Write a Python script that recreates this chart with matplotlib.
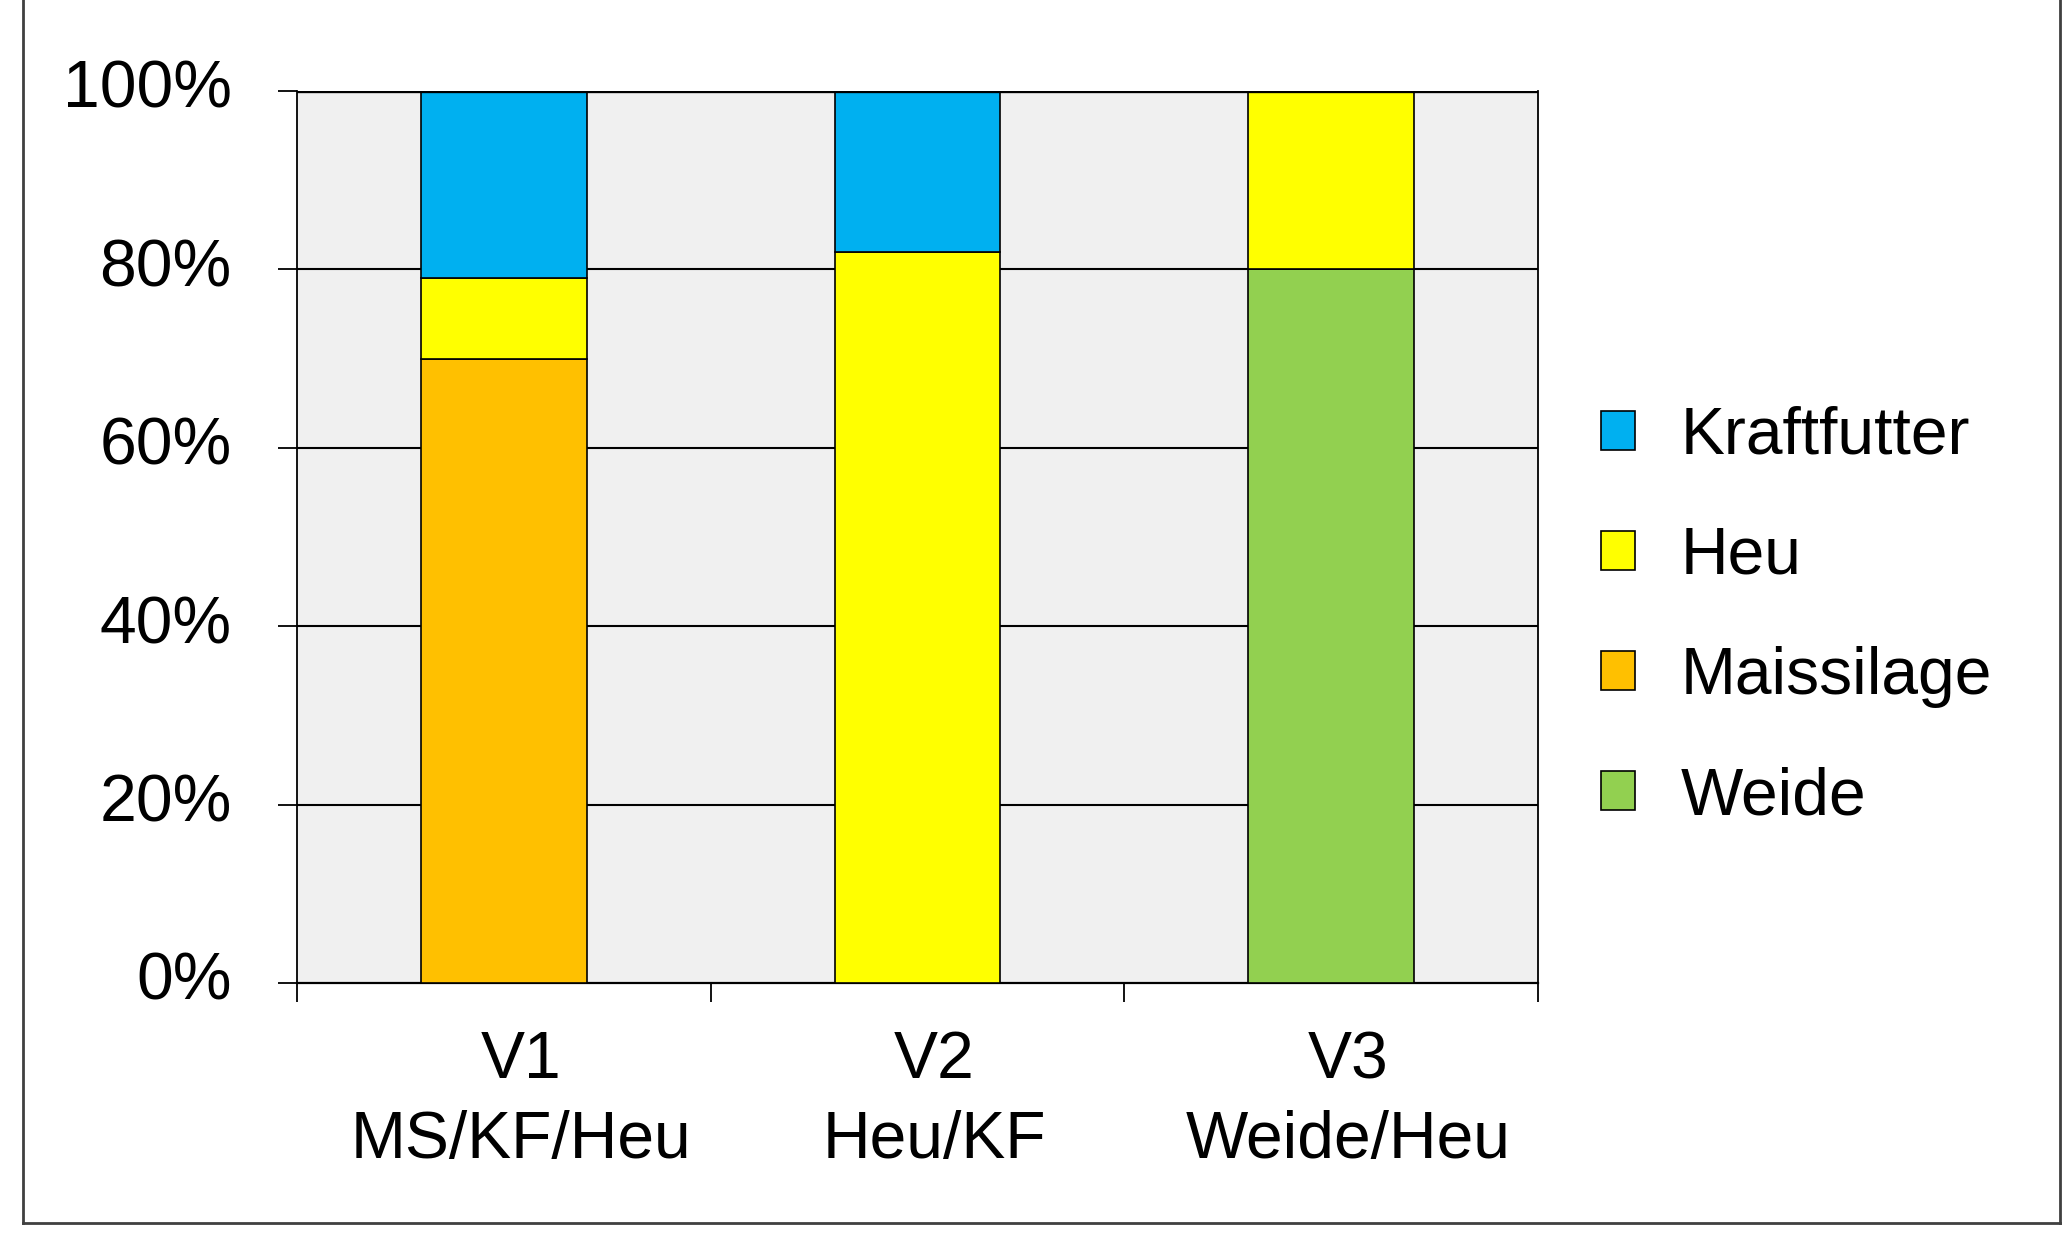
import matplotlib.pyplot as plt
import matplotlib.transforms as mtransforms
import numpy as np
from matplotlib.lines import Line2D
from matplotlib.patches import Patch

plt.rcParams['font.family'] = ['Liberation Sans', 'DejaVu Sans']

categories = ["V1\nMS/KF/Heu", "V2\nHeu/KF", "V3\nWeide/Heu"]
series = ["Weide", "Maissilage", "Heu", "Kraftfutter"]
weide = [0, 0, 80]
maissilage = [70, 0, 0]
heu = [9, 82, 20]
kraftfutter = [21, 18, 0]
colors = {"Weide": "#92D050", "Maissilage": "#FFC000", "Heu": "#FFFF00", "Kraftfutter": "#00B0F0"}
y_ticks = [0, 20, 40, 60, 80, 100]
y_labels = ["0%", "20%", "40%", "60%", "80%", "100%"]

FS = 47.5

fig = plt.figure(figsize=(20.67, 12.41), dpi=100)
ax = fig.add_axes([297 / 2067, 1 - 983 / 1241, 1241 / 2067, 892 / 1241])
ax.set_facecolor("#F0F0F0")

x = np.arange(len(categories))
bottom = np.zeros(len(categories))
values = {"Weide": weide, "Maissilage": maissilage, "Heu": heu, "Kraftfutter": kraftfutter}
for name in series:
    vals = np.array(values[name], dtype=float)
    ax.bar(x, vals, width=0.4, bottom=bottom, color=colors[name], edgecolor="black",
           linewidth=1.2, zorder=3)
    bottom += vals

ax.set_xlim(-0.5, len(categories) - 0.5)
ax.set_ylim(0, 100)

# horizontal grid lines
for y in y_ticks[1:-1]:
    ax.axhline(y, color="black", linewidth=1.5, zorder=1)
ax.axhline(100, color="black", linewidth=2.4, zorder=4)

ax.set_yticks(y_ticks)
ax.set_yticklabels(y_labels, fontsize=FS)
ax.tick_params(axis="y", length=14, width=1.3, pad=33, direction="out")

ax.set_xticks(x)
ax.set_xticklabels(categories, fontsize=FS, linespacing=1.36)
ax.set_xticks(np.arange(len(categories) + 1) - 0.5, minor=True)
ax.tick_params(axis="x", which="major", length=0, pad=34)
ax.tick_params(axis="x", which="minor", length=14, width=1.3, direction="out")

# small offsets of the tick labels as in the original
up = mtransforms.ScaledTranslation(0, 7 / 100, fig.dpi_scale_trans)
for lab in ax.get_yticklabels():
    lab.set_transform(lab.get_transform() + up)
right = mtransforms.ScaledTranslation(17 / 100, 0, fig.dpi_scale_trans)
for lab in ax.get_xticklabels():
    lab.set_transform(lab.get_transform() + right)

for side in ["left", "right", "bottom"]:
    ax.spines[side].set_color("black")
    ax.spines[side].set_linewidth(1.3)
ax.spines["bottom"].set_linewidth(1.6)
ax.spines["top"].set_visible(False)

handles = [Patch(facecolor=colors[name], edgecolor="black", linewidth=1.2, label=name)
           for name in series[::-1]]
fig.legend(handles=handles, loc="center left", bbox_to_anchor=(1601 / 2067, 1 - 617 / 1241),
           frameon=False, fontsize=FS, handlelength=0.52, handleheight=0.52,
           handletextpad=0.69, labelspacing=0.88, borderpad=0, borderaxespad=0)

# outer frame (no top edge)
frame_color = "#404040"
l, r, b = 23 / 2067, 2060 / 2067, 1 - 1223 / 1241
fig.add_artist(Line2D([l, l], [b, 1], transform=fig.transFigure, color=frame_color, linewidth=2))
fig.add_artist(Line2D([r, r], [b, 1], transform=fig.transFigure, color=frame_color, linewidth=2))
fig.add_artist(Line2D([l, r], [b, b], transform=fig.transFigure, color=frame_color, linewidth=2))

plt.savefig("out.png", dpi=100)
plt.close()
